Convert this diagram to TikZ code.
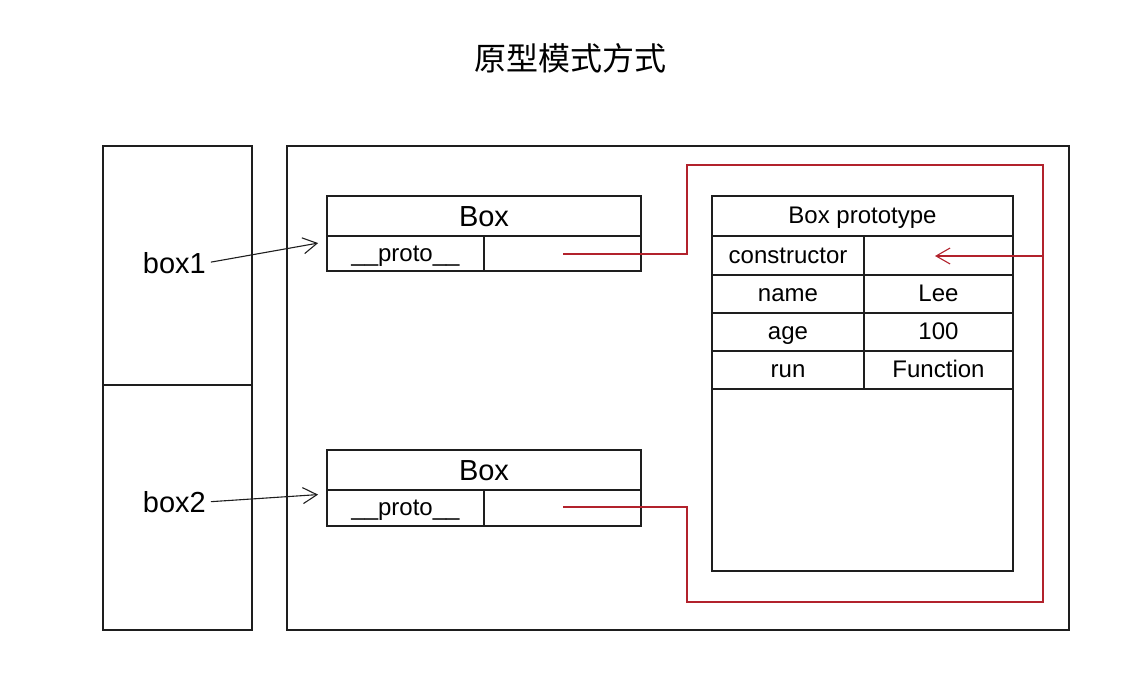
\documentclass[tikz,border=0pt]{standalone}
\usepackage{fontspec}
\setmainfont{Liberation Sans}
\newfontfamily\cjk{Noto Sans CJK SC}
\usetikzlibrary{arrows.meta}
\definecolor{redline}{RGB}{178,34,44}
\definecolor{ink}{RGB}{30,30,30}
\tikzset{
  cell/.style={draw=ink, line width=1.3pt, anchor=north west, inner sep=0pt, outer sep=0pt},
  big/.style={font=\fontsize{29}{30}\selectfont, text height=21pt, text depth=1pt},
  small/.style={font=\fontsize{24}{26}\selectfont, text height=17pt, text depth=1.5pt},
  ptr/.style={redline, line width=1.4pt},
  barb/.style={-{Straight Barb[length=14pt,width=16pt,line width=1.1pt]}},
}
\begin{document}
\begin{tikzpicture}[x=1pt,y=-1pt]
\useasboundingbox (0,0) rectangle (1142,690);
% title
\node (title) at (570,58) {\cjk\fontsize{32}{34}\selectfont 原型模式方式};
% left stack
\node[cell, minimum width=149, minimum height=239] (s1) at (103,146) {};
\node[cell, minimum width=149, minimum height=245] (s2) at (103,385) {};
% big heap frame
\node[cell, minimum width=782, minimum height=484] (heap) at (287,146) {};
% Box 1
\node[cell, big, minimum width=314, minimum height=40] (b1t) at (327,196) {Box};
\node[cell, small, minimum width=157, minimum height=35] (b1p) at (327,236) {\_\_proto\_\_};
\node[cell, minimum width=157, minimum height=35] (b1v) at (484,236) {};
% Box 2
\node[cell, big, minimum width=314, minimum height=40] (b2t) at (327,450) {Box};
\node[cell, small, minimum width=157, minimum height=36] (b2p) at (327,490) {\_\_proto\_\_};
\node[cell, minimum width=157, minimum height=36] (b2v) at (484,490) {};
% prototype
\node[cell, small, minimum width=301, minimum height=40] (pt) at (712,196) {Box prototype};
\node[cell, small, minimum width=152, minimum height=39] (c1) at (712,236) {constructor};
\node[cell, minimum width=149, minimum height=39] (v1) at (864,236) {};
\node[cell, small, minimum width=152, minimum height=38] (c2) at (712,275) {name};
\node[cell, small, minimum width=149, minimum height=38] (v2) at (864,275) {Lee};
\node[cell, small, minimum width=152, minimum height=38] (c3) at (712,313) {age};
\node[cell, small, minimum width=149, minimum height=38] (v3) at (864,313) {100};
\node[cell, small, minimum width=152, minimum height=38] (c4) at (712,351) {run};
\node[cell, small, minimum width=149, minimum height=38] (v4) at (864,351) {Function};
\node[cell, minimum width=301, minimum height=182] (rest) at (712,389) {};
% variable labels
\node[big, anchor=east, inner sep=0pt] (box1) at (206,263) {box1};
\node[big, anchor=east, inner sep=0pt] (box2) at (206,502) {box2};
\draw[ink, line width=1.1pt, barb, shorten <=5pt, shorten >=9pt] (box1.east) -- ([yshift=12pt]b1p.west);
\draw[ink, line width=1.1pt, barb, shorten <=5pt, shorten >=9pt] (box2.east) -- ([yshift=14pt]b2p.west);
% red pointer loop
\coordinate (p1) at (563,254);
\coordinate (p2) at (563,507);
\coordinate (tip) at (935,256);
\draw[ptr] (p1) -- (687,254) -- (687,165) -- (1043,165) -- (1043,602) -- (687,602) -- (687,507) -- (p2);
\draw[ptr, barb] (1043,256) -- (tip);
\end{tikzpicture}
\end{document}
